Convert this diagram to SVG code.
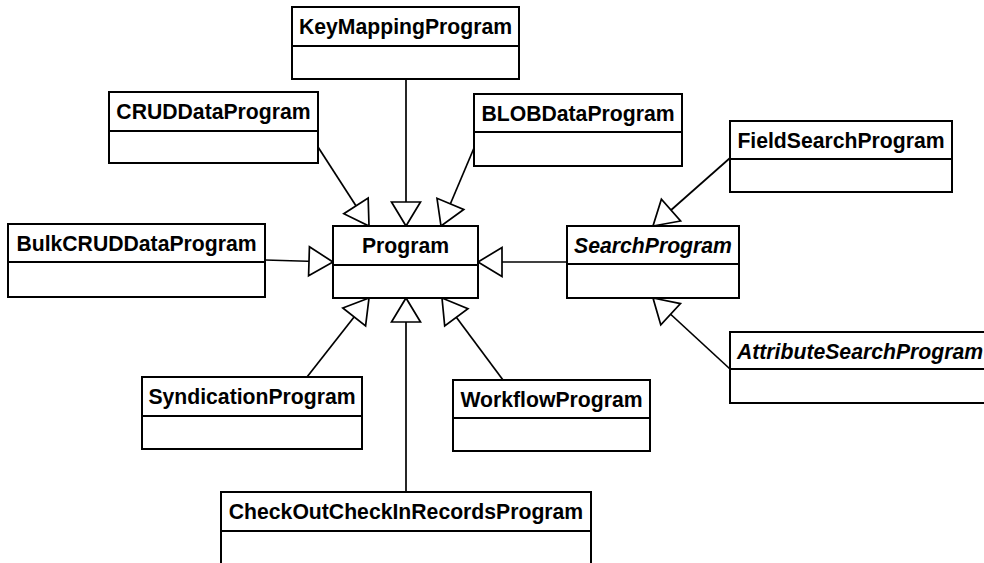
<svg xmlns="http://www.w3.org/2000/svg" width="984" height="563" viewBox="0 0 984 563">
<style>
.box{fill:#fff;stroke:#000;stroke-width:2}
.div{stroke:#000;stroke-width:2}
.t{font-family:"Liberation Sans",Arial,sans-serif;font-weight:bold;font-size:21.2px;fill:#000;text-anchor:middle}
.i{font-style:italic}
.c{fill:none;stroke:#000;stroke-width:1.7}
</style>
<defs>
<marker id="gen" markerUnits="userSpaceOnUse" viewBox="-27 -17 30 34" markerWidth="30" markerHeight="34" refX="0" refY="0" orient="auto" overflow="visible">
<path d="M-24,-14.5 L0,0 L-24,14.5 Z" fill="#fff" stroke="#000" stroke-width="1.7" stroke-linejoin="miter"/>
</marker>
</defs>
<rect width="984" height="563" fill="#fff"/>
<g id="connectors">
<path class="c" d="M406,79 L406,226" marker-end="url(#gen)"/>
<path class="c" d="M318,147 L369,226" marker-end="url(#gen)"/>
<path class="c" d="M474,148 L441,226" marker-end="url(#gen)"/>
<path class="c" d="M265,260 L333,262" marker-end="url(#gen)"/>
<path class="c" d="M567,262 L478,262" marker-end="url(#gen)"/>
<path class="c" d="M307,377 L369,298" marker-end="url(#gen)"/>
<path class="c" d="M406,492 L406,298" marker-end="url(#gen)"/>
<path class="c" d="M503,380 L442,298" marker-end="url(#gen)"/>
<path class="c" d="M730,158 L653,226" marker-end="url(#gen)"/>
<path class="c" d="M730,369 L653,298" marker-end="url(#gen)"/>
</g>
<g id="KeyMappingProgram">
<rect class="box" x="292" y="7" width="227" height="72"/>
<line class="div" x1="292" y1="46" x2="519" y2="46"/>
<text class="t" x="405.5" y="33.5">KeyMappingProgram</text>
</g>
<g id="CRUDDataProgram">
<rect class="box" x="109" y="92" width="209" height="71"/>
<line class="div" x1="109" y1="131" x2="318" y2="131"/>
<text class="t" x="213.5" y="118.5">CRUDDataProgram</text>
</g>
<g id="BLOBDataProgram">
<rect class="box" x="474" y="94" width="208" height="72"/>
<line class="div" x1="474" y1="132" x2="682" y2="132"/>
<text class="t" x="578" y="120.5">BLOBDataProgram</text>
</g>
<g id="FieldSearchProgram">
<rect class="box" x="730" y="121" width="222" height="71"/>
<line class="div" x1="730" y1="159" x2="952" y2="159"/>
<text class="t" x="841" y="147.5">FieldSearchProgram</text>
</g>
<g id="BulkCRUDDataProgram">
<rect class="box" x="8" y="224" width="257" height="73"/>
<line class="div" x1="8" y1="262" x2="265" y2="262"/>
<text class="t" x="136.5" y="250.5">BulkCRUDDataProgram</text>
</g>
<g id="Program">
<rect class="box" x="333" y="226" width="145" height="72"/>
<line class="div" x1="333" y1="265" x2="478" y2="265"/>
<text class="t" x="405.5" y="252.5">Program</text>
</g>
<g id="SearchProgram">
<rect class="box" x="567" y="226" width="172" height="72"/>
<line class="div" x1="567" y1="264" x2="739" y2="264"/>
<text class="t i" x="653" y="252.5">SearchProgram</text>
</g>
<g id="AttributeSearchProgram">
<rect class="box" x="730" y="332" width="260" height="71"/>
<line class="div" x1="730" y1="369" x2="990" y2="369"/>
<text class="t i" x="860" y="358.5">AttributeSearchProgram</text>
</g>
<g id="SyndicationProgram">
<rect class="box" x="142" y="377" width="220" height="72"/>
<line class="div" x1="142" y1="416" x2="362" y2="416"/>
<text class="t" x="252" y="403.5">SyndicationProgram</text>
</g>
<g id="WorkflowProgram">
<rect class="box" x="453" y="380" width="197" height="71"/>
<line class="div" x1="453" y1="418" x2="650" y2="418"/>
<text class="t" x="551.5" y="406.5">WorkflowProgram</text>
</g>
<g id="CheckOutCheckInRecordsProgram">
<rect class="box" x="221" y="492" width="370" height="73"/>
<line class="div" x1="221" y1="531" x2="591" y2="531"/>
<text class="t" x="406" y="518.5">CheckOutCheckInRecordsProgram</text>
</g>
</svg>
